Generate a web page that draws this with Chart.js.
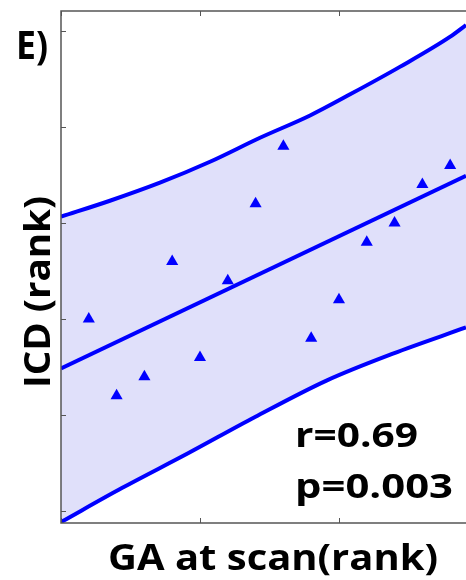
<!DOCTYPE html>
<html lang="en">
<head>
    <meta charset="UTF-8">
    <title>ICD vs GA at scan</title>
    <script src="https://cdn.jsdelivr.net/npm/chart.js"></script>
    <style>
        html, body {
            margin: 0;
            padding: 0;
            background-color: #ffffff;
            overflow: hidden;
        }
        canvas {
            display: block;
        }
    </style>
</head>
<body>
    <canvas id="chartE" width="466" height="580"></canvas>

    <script>
        // ranks
        const gaRank = [1, 2, 3, 4, 5, 6, 7, 8, 9, 10, 11, 12, 13, 14];
        const icdRank = [10, 6, 7, 13, 8, 12, 16, 19, 9, 11, 14, 15, 17, 18];

        // regression line and band edges
        const fitX = [0, 14.57];
        const fitY = [7.43, 17.46];
        const upperX = [0, 1.76, 3.56, 5.36, 7.16, 8.96, 10.4, 12.19, 13.99, 14.57];
        const upperY = [15.33, 16.16, 17.1, 18.19, 19.44, 20.6, 21.7, 23.13, 24.69, 25.31];
        const lowerX = [0, 2.19, 4.57, 6.98, 9.57, 11.94, 14.57];
        const lowerY = [-0.57, 1.2, 3.01, 4.9, 6.81, 8.2, 9.56];

        const xTicks = [0, 5, 10];
        const yTicks = [0, 5, 10, 15, 20, 25];

        const toPts = (xs, ys) => xs.map((x, i) => ({ x: x, y: ys[i] }));

        // text squeezed/stretched sideways so it spans the given width
        function fitText(ctx, text, x, y, size, width) {
            ctx.font = 'bold ' + size + 'px "Open Sans"';
            const w = ctx.measureText(text).width;
            ctx.save();
            ctx.translate(x, y);
            ctx.scale(width / w, 1);
            ctx.textAlign = 'left';
            ctx.textBaseline = 'alphabetic';
            ctx.fillText(text, 0, 0);
            ctx.restore();
        }

        const frameAndText = {
            id: 'frameAndText',
            afterDraw(chart) {
                const ctx = chart.ctx;
                const a = chart.chartArea;
                const xs = chart.scales.x, ys = chart.scales.y;
                ctx.save();
                ctx.strokeStyle = '#555555';
                ctx.lineWidth = 1.5;
                ctx.beginPath();
                ctx.moveTo(a.right, a.top);
                ctx.lineTo(a.left, a.top);
                ctx.lineTo(a.left, a.bottom);
                ctx.lineTo(a.right, a.bottom);
                ctx.stroke();
                ctx.lineWidth = 1;
                ctx.beginPath();
                yTicks.forEach(v => {
                    const py = Math.round(ys.getPixelForValue(v)) + 0.5;
                    ctx.moveTo(a.left, py);
                    ctx.lineTo(a.left + 5, py);
                });
                xTicks.forEach(v => {
                    const px = Math.round(xs.getPixelForValue(v)) + 0.5;
                    ctx.moveTo(px, a.bottom);
                    ctx.lineTo(px, a.bottom - 5);
                    ctx.moveTo(px, a.top);
                    ctx.lineTo(px, a.top + 5);
                });
                ctx.stroke();

                ctx.fillStyle = '#000000';
                fitText(ctx, 'E)', 16, 59, 40, 32);
                fitText(ctx, 'r=0.69', 295, 447, 34, 123);
                fitText(ctx, 'p=0.003', 295, 498, 34, 158);
                fitText(ctx, 'GA at scan(rank)', 108, 570, 36, 330);

                ctx.save();
                ctx.translate(50, 388);
                ctx.rotate(-Math.PI / 2);
                fitText(ctx, 'ICD (rank)', 0, 0, 35, 192);
                ctx.restore();
                ctx.restore();
            }
        };

        new Chart(document.getElementById('chartE'), {
            type: 'scatter',
            data: {
                datasets: [
                    {
                        label: 'upper',
                        data: toPts(upperX, upperY),
                        showLine: true,
                        borderColor: '#0000ff',
                        borderWidth: 4,
                        pointRadius: 0,
                        cubicInterpolationMode: 'monotone',
                        fill: '+1',
                        backgroundColor: 'rgba(224, 224, 250, 1)'
                    },
                    {
                        label: 'lower',
                        data: toPts(lowerX, lowerY),
                        showLine: true,
                        borderColor: '#0000ff',
                        borderWidth: 4,
                        pointRadius: 0,
                        cubicInterpolationMode: 'monotone',
                        fill: false
                    },
                    {
                        label: 'fit',
                        data: toPts(fitX, fitY),
                        showLine: true,
                        borderColor: '#0000ff',
                        borderWidth: 4,
                        pointRadius: 0,
                        fill: false
                    },
                    {
                        label: 'subjects',
                        data: toPts(gaRank, icdRank),
                        pointStyle: 'triangle',
                        pointRadius: 7,
                        backgroundColor: '#0000ff',
                        borderColor: '#0000ff',
                        borderWidth: 0
                    }
                ]
            },
            options: {
                responsive: false,
                animation: false,
                layout: {
                    autoPadding: false,
                    padding: { left: 61, top: 11, right: 0, bottom: 57 }
                },
                scales: {
                    x: { type: 'linear', min: 0, max: 14.57, display: false },
                    y: { type: 'linear', min: -0.62, max: 26.04, display: false }
                },
                plugins: {
                    legend: { display: false },
                    tooltip: { enabled: false },
                    filler: { drawTime: 'beforeDatasetsDraw' }
                }
            },
            plugins: [frameAndText]
        });
    </script>
</body>
</html>
